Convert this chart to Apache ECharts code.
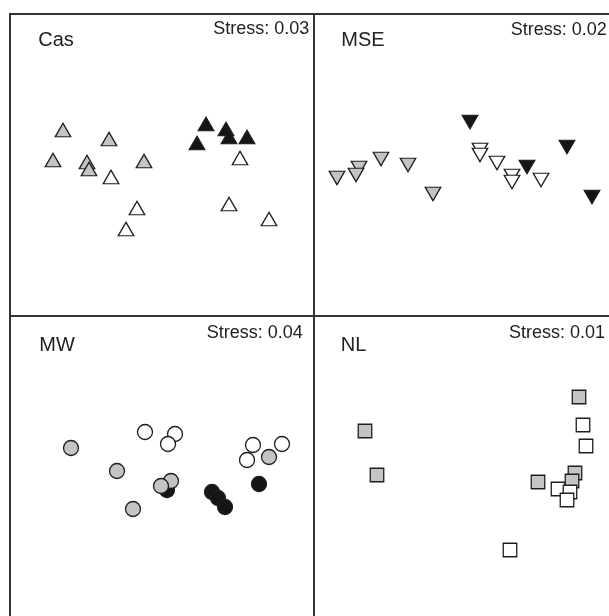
<!DOCTYPE html>
<html>
<head>
<meta charset="utf-8">
<script src="https://cdn.jsdelivr.net/npm/echarts@6/dist/echarts.min.js"></script>
<style>html,body{margin:0;padding:0;background:#fff}#c{width:609px;height:616px}</style>
</head>
<body>
<div id="c"></div>
<script>
// Panel labels and stress values
var panelNames = ['Cas', 'MSE', 'MW', 'NL'];
var stressLabels = ['Stress: 0.03', 'Stress: 0.02', 'Stress: 0.04', 'Stress: 0.01'];

// NMDS ordination coordinates
var casGray  = [[-0.99,0.35],[-0.53,0.26],[-1.09,0.05],[-0.75,0.03],[-0.73,-0.04],[-0.18,0.04]];
var casWhite = [[-0.51,-0.12],[-0.25,-0.43],[-0.36,-0.64],[0.78,0.07],[0.67,-0.39],[1.07,-0.54]];
var casBlack = [[0.44,0.41],[0.35,0.22],[0.64,0.36],[0.67,0.28],[0.85,0.28]];

var mseGray  = [[-1.29,-0.13],[-1.07,-0.03],[-1.10,-0.10],[-0.85,0.06],[-0.58,0.00],[-0.33,-0.29]];
var mseWhite = [[0.14,0.15],[0.14,0.10],[0.31,0.02],[0.46,-0.11],[0.46,-0.17],[0.75,-0.15]];
var mseBlack = [[0.04,0.43],[0.61,-0.02],[1.01,0.18],[1.26,-0.32]];

var mwGray  = [[-0.91,0.19],[-0.45,-0.04],[0.09,-0.14],[-0.01,-0.19],[-0.29,-0.42],[1.07,0.10]];
var mwWhite = [[-0.17,0.35],[0.13,0.33],[0.06,0.23],[0.91,0.22],[1.20,0.23],[0.85,0.07]];
var mwBlack = [[0.05,-0.23],[0.50,-0.25],[0.56,-0.31],[0.63,-0.40],[0.97,-0.17]];

var nlGray  = [[1.13,0.70],[-1.01,0.36],[-0.89,-0.08],[0.72,-0.15],[1.09,-0.06],[1.06,-0.14]];
var nlWhite = [[1.17,0.42],[1.20,0.21],[0.92,-0.22],[1.04,-0.25],[1.01,-0.33],[0.44,-0.83]];

var chart = echarts.init(document.getElementById('c'), null, {renderer: 'canvas'});

var grids = [
  {left: 10, top: 14, width: 304, height: 302},
  {left: 314, top: 14, width: 304, height: 302},
  {left: 10, top: 316, width: 304, height: 302},
  {left: 314, top: 316, width: 304, height: 302}
];
grids.forEach(function (g) {
  g.show = true; g.borderColor = '#333'; g.borderWidth = 2; g.backgroundColor = 'transparent';
  g.containLabel = false;
  g.outerBoundsMode = 'none';
});

function axis(i, kind) {
  var lim = kind === 'x' ? 1.52 : 1.51;
  return {type: 'value', gridIndex: i, min: -lim, max: lim, show: false,
          axisLine: {show: false}, axisTick: {show: false}, axisLabel: {show: false}, splitLine: {show: false}};
}
var xAxes = [0,1,2,3].map(function (i) { return axis(i, 'x'); });
var yAxes = [0,1,2,3].map(function (i) { return axis(i, 'y'); });

var FILL = {white: '#ffffff', gray: '#c4c4c4', black: '#151515'};
var EDGE = '#1e1e1e';

function ser(i, data, fill, symbol, size, rotate) {
  return {
    type: 'scatter', xAxisIndex: i, yAxisIndex: i, data: data,
    symbol: symbol, symbolSize: size, symbolRotate: rotate || 0,
    itemStyle: {color: fill, borderColor: EDGE, borderWidth: 1.3, opacity: 1},
    emphasis: {disabled: true}, silent: true, animation: false
  };
}

var tri = [15.5, 13.5];
var series = [
  ser(0, casWhite, FILL.white, 'triangle', tri),
  ser(0, casBlack, FILL.black, 'triangle', tri),
  ser(0, casGray, FILL.gray, 'triangle', tri),
  ser(1, mseWhite, FILL.white, 'triangle', tri, 180),
  ser(1, mseBlack, FILL.black, 'triangle', tri, 180),
  ser(1, mseGray, FILL.gray, 'triangle', tri, 180),
  ser(2, mwWhite, FILL.white, 'circle', 15),
  ser(2, mwBlack, FILL.black, 'circle', 15),
  ser(2, mwGray, FILL.gray, 'circle', 15),
  ser(3, nlGray, FILL.gray, 'rect', 13.5),
  ser(3, nlWhite, FILL.white, 'rect', 13.5)
];

var nameX = [38.3, 341.3, 39.3, 340.7];
var nameY = [40.5, 40.5, 345.8, 345.5];
var stressX = [309.3, 606.7, 302.7, 605];
var stressY = [29.5, 30.5, 333, 332.7];
var font = '"Liberation Sans", Arial, Helvetica, sans-serif';
var graphics = [];
for (var k = 0; k < 4; k++) {
  graphics.push({type: 'text', x: nameX[k], y: nameY[k], silent: true,
    style: {text: panelNames[k], fontSize: 20, fontFamily: font, fill: '#222',
            textAlign: 'left', textVerticalAlign: 'middle'}});
  graphics.push({type: 'text', x: stressX[k], y: stressY[k], silent: true,
    style: {text: stressLabels[k], fontSize: 18, fontFamily: font, fill: '#222',
            textAlign: 'right', textVerticalAlign: 'middle'}});
}

chart.setOption({
  animation: false,
  backgroundColor: '#fff',
  grid: grids,
  xAxis: xAxes,
  yAxis: yAxes,
  series: series,
  graphic: graphics
});
</script>
</body>
</html>
